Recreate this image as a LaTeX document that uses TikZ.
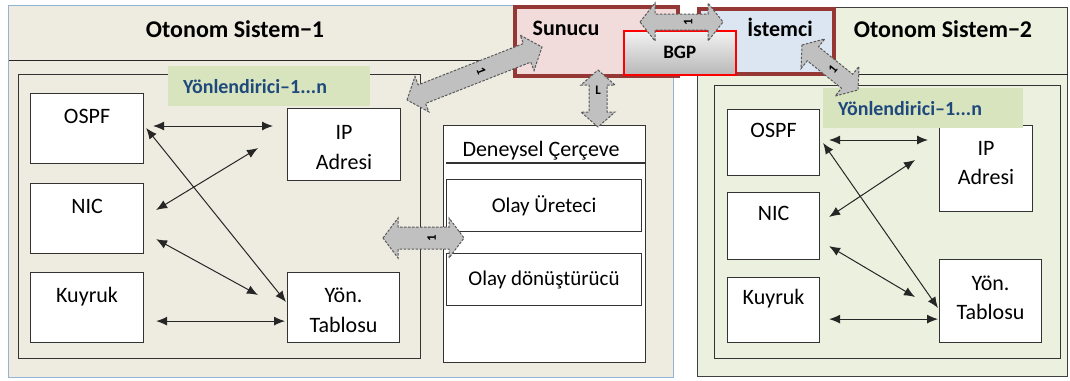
\documentclass[tikz,border=0pt]{standalone}
\usepackage{fontspec}
\setmainfont{Carlito}
\usetikzlibrary{arrows.meta,calc}
\definecolor{asone}{HTML}{EEECE1}
\definecolor{asoneb}{HTML}{95B3D7}
\definecolor{astwo}{HTML}{EBF1DE}
\definecolor{srvfill}{HTML}{F2DCDB}
\definecolor{srvdraw}{HTML}{953735}
\definecolor{clifill}{HTML}{DCE6F2}
\definecolor{lblgreen}{HTML}{D7E4BD}
\definecolor{lbltext}{HTML}{1F497D}
\definecolor{bagray}{HTML}{C0C0C0}
\tikzset{
  asbox/.style={anchor=north west, inner sep=0pt, line width=1pt},
  rbox/.style={draw=black!80, line width=1.3pt, anchor=north west, inner sep=0pt},
  cbox/.style={draw=black!80, line width=1.1pt, fill=white, anchor=north west, inner sep=0pt},
  lb/.style={anchor=base, inner sep=0pt, font=\fontsize{22}{26}\selectfont},
  ttl/.style={anchor=base, inner sep=0pt, font=\bfseries\fontsize{24}{28}\selectfont},
  glbl/.style={fill=lblgreen, anchor=north west, inner ysep=0pt, inner xsep=15pt, align=left,
    text width=172pt, minimum height=40pt, font=\bfseries\fontsize{20}{24}\selectfont, text=lbltext},
  link/.style={{Latex[length=11pt,width=9pt]}-{Latex[length=11pt,width=9pt]}, line width=1pt, draw=black!85},
  blk/.style={fill=bagray, draw=black!65, dash pattern=on 2.5pt off 1.5pt, line width=1pt},
  blklbl/.style={font=\bfseries\fontsize{13}{13}\selectfont, inner sep=0pt},
}
\newcommand\blkarrow[5]{%
  \path[blk] (#1) -- ($(#1)!#3!(#2)!#4!90:(#2)$) -- ($(#1)!#3!(#2)!#5!90:(#2)$)
    -- ($(#2)!#3!(#1)!#5!-90:(#1)$) -- ($(#2)!#3!(#1)!#4!-90:(#1)$) -- (#2)
    -- ($(#2)!#3!(#1)!#4!90:(#1)$) -- ($(#2)!#3!(#1)!#5!90:(#1)$)
    -- ($(#1)!#3!(#2)!#5!-90:(#2)$) -- ($(#1)!#3!(#2)!#4!-90:(#2)$) -- cycle;}
\begin{document}
\begin{tikzpicture}[x=1pt,y=-1pt]
\useasboundingbox[fill=white] (0,0) rectangle (1070,380);
% autonomous systems
\node[asbox, draw=asoneb, fill=asone, minimum width=665pt, minimum height=372pt] (asA) at (8,5) {};
\node[asbox, draw=black!75, fill=astwo, minimum width=370pt, minimum height=369pt] (asB) at (697,7) {};
\draw[line width=1pt, black!85] ($(asA.north west)+(1,55)$) -- ($(asA.north east)+(-1,55)$);
\draw[line width=1pt, black!85] ($(asB.north west)+(0,67)$) -- ($(asB.north east)+(0,67)$);
\node[ttl] (tA) at (235,37) {Otonom Sistem−1};
\node[ttl] (tB) at (943,37) {Otonom Sistem−2};
% routers
\node[rbox, minimum width=402pt, minimum height=284pt] (rA) at (18,74) {};
\node[rbox, minimum width=346pt, minimum height=273pt] (rB) at (714,85) {};
% AS1 boxes
\node[cbox, minimum width=113pt, minimum height=70pt, label={[lb,yshift=-30pt]north:OSPF}] (ospfA) at (30,93) {};
\node[cbox, minimum width=113pt, minimum height=70pt, label={[lb,yshift=-30pt]north:NIC}] (nicA) at (30,183) {};
\node[cbox, minimum width=113pt, minimum height=70pt, label={[lb,yshift=-30pt]north:Kuyruk}] (kuyA) at (30,272) {};
\node[cbox, minimum width=113pt, minimum height=72pt, label={[lb,yshift=-31pt]north:IP}, label={[lb,yshift=-61pt]north:Adresi}] (ipA) at (287,108) {};
\node[cbox, minimum width=112pt, minimum height=70pt, label={[lb,yshift=-30pt]north:Yön.}, label={[lb,yshift=-60pt]north:Tablosu}] (yonA) at (287,272) {};
% AS2 boxes
\node[cbox, minimum width=92pt, minimum height=66pt, label={[lb,yshift=-28pt]north:OSPF}] (ospfB) at (727,109) {};
\node[cbox, minimum width=92pt, minimum height=67pt, label={[lb,yshift=-28pt]north:NIC}] (nicB) at (727,192) {};
\node[cbox, minimum width=92pt, minimum height=65pt, label={[lb,yshift=-27pt]north:Kuyruk}] (kuyB) at (727,277) {};
\node[cbox, minimum width=93pt, minimum height=86pt, label={[lb,yshift=-30pt]north:IP}, label={[lb,yshift=-59pt]north:Adresi}] (ipB) at (939,125) {};
\node[cbox, minimum width=102pt, minimum height=83pt, label={[lb,yshift=-31pt]north:Yön.}, label={[lb,yshift=-60pt]north:Tablosu}] (yonB) at (939,259) {};
% router labels
\node[glbl] (gA) at (168,66) {Yönlendirici–1...n};
\node[glbl, text width=170pt, inner xsep=15pt] (gB) at (823,88) {Yönlendirici–1...n};
% AS1 links
\draw[link] ($(ospfA.north east)+(9,33)$) -- ($(ipA.north west)+(-14,18)$);
\draw[link] ($(nicA.north east)+(12,27)$) -- ($(ipA.south west)+(-29,-33)$);
\draw[link] ($(ospfA.north east)+(2,35)$) -- ($(yonA.north west)+(-1,30)$);
\draw[link] ($(nicA.south east)+(12,-15)$) -- ($(yonA.north west)+(-29,23)$);
\draw[link] ($(kuyA.south east)+(12,-22)$) -- ($(yonA.south west)+(-2,-22)$);
% AS2 links
\draw[link] ($(ospfB.north east)+(9,31)$) -- ($(ipB.north west)+(-11,15)$);
\draw[link] ($(nicB.north east)+(9,25)$) -- ($(ipB.north west)+(-24,35)$);
\draw[link] ($(ospfB.north east)+(3,34)$) -- ($(yonB.north west)+(-1,49)$);
\draw[link] ($(nicB.south east)+(9,-14)$) -- ($(yonB.north west)+(-24,38)$);
\draw[link] ($(kuyB.south east)+(9,-24)$) -- ($(yonB.south west)+(-1,-24)$);
% experimental frame
\node[cbox, minimum width=202pt, minimum height=237pt] (den) at (443,125) {};
\draw[line width=1.1pt, black!80] ($(den.north west)+(3,38)$) -- ($(den.north east)+(0,38)$);
\node[anchor=base, inner sep=0pt, font=\fontsize{22}{26}\selectfont] (denT) at (541,156) {Deneysel Çerçeve};
\node[cbox, minimum width=195pt, minimum height=52pt, font=\fontsize{21}{25}\selectfont] (olayA) at (446,179) {Olay Üreteci};
\node[cbox, minimum width=195pt, minimum height=52pt, font=\fontsize{21}{25}\selectfont] (olayB) at (446,253) {Olay dönüştürücü};
% server / client / BGP
\node[asbox, draw=srvdraw, fill=srvfill, line width=3.5pt, minimum width=163pt, minimum height=69pt] (srv) at (513,5) {};
\node[ttl, font=\bfseries\fontsize{22}{26}\selectfont] (srvT) at (566,35) {Sunucu};
\node[asbox, draw=srvdraw, fill=clifill, line width=3.5pt, minimum width=135pt, minimum height=65pt] (cli) at (697,7) {};
\node[ttl, font=\bfseries\fontsize{22}{26}\selectfont] (cliT) at (780,36) {İstemci};
\node[asbox, draw=red, line width=1.5pt, top color=white!95!black, bottom color=black!28, minimum width=112pt, minimum height=44pt,
  font=\bfseries\fontsize{19}{22}\selectfont] (bgp) at (623,30) {BGP};
% block arrows
\coordinate (bgpL) at (640,22);
\coordinate (bgpR) at (723,22);
\blkarrow{bgpL}{bgpR}{15pt}{19pt}{8pt}
\node[blklbl, rotate=90] (bgpN) at ($(bgpL)!0.58!(bgpR)$) {1};
\coordinate (vT) at (598,70);
\coordinate (vB) at (598,127);
\blkarrow{vT}{vB}{15pt}{17pt}{9pt}
\node[blklbl] (vN) at ($(vT)!0.35!(vB)$) {L};
\coordinate (dA) at (407,100);
\coordinate (dB) at (542,47);
\blkarrow{dA}{dB}{16pt}{19pt}{10pt}
\node[blklbl, rotate=-69] (dN) at ($(dA)!0.55!(dB)$) {1};
\coordinate (mL) at (383,238);
\coordinate (mR) at (464,238);
\blkarrow{mL}{mR}{15pt}{20pt}{11pt}
\node[blklbl, rotate=90] (mN) at ($(mL)!0.6!(mR)$) {1};
\coordinate (iA) at (802,45);
\coordinate (iB) at (858,90);
\blkarrow{iA}{iB}{14pt}{19pt}{9pt}
\node[blklbl, rotate=51] (iN) at ($(iA)!0.55!(iB)$) {1};
\end{tikzpicture}
\end{document}
